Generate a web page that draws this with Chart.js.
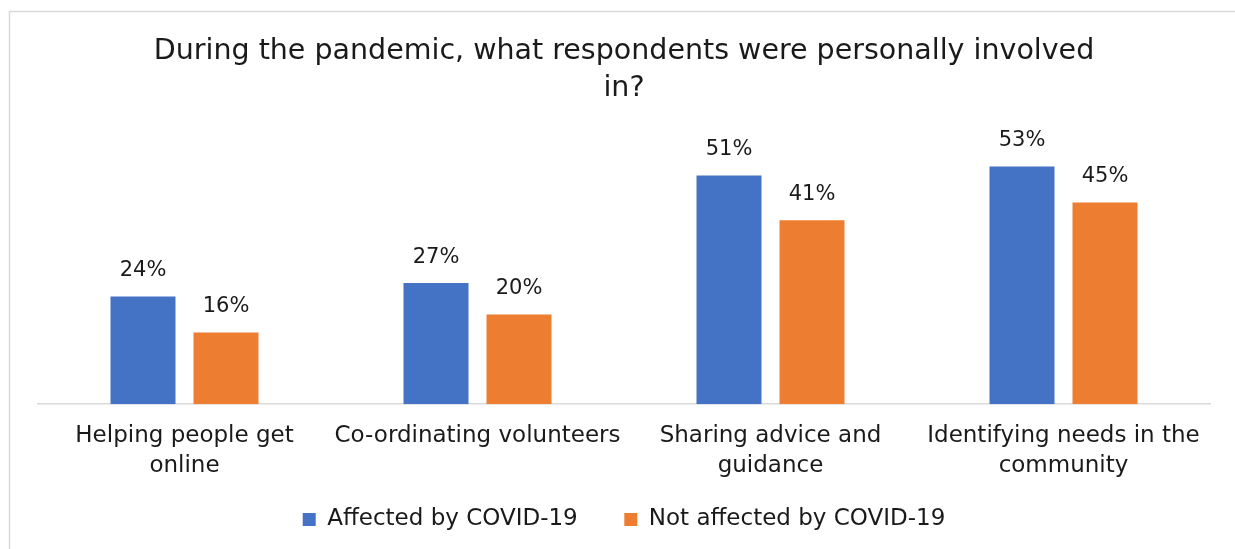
<!DOCTYPE html>
<html>
<head>
<meta charset="utf-8">
<script src="https://cdn.jsdelivr.net/npm/chart.js@4"></script>
<style>
  html, body { margin: 0; padding: 0; background: #fff; }
  #wrap { position: relative; width: 1235px; height: 549px; }
</style>
</head>
<body>
<div id="wrap"><canvas id="involvedChart"></canvas></div>
<script>
const categories = [
  ["Helping people get", "online"],
  "Co-ordinating volunteers",
  ["Sharing advice and", "guidance"],
  ["Identifying needs in the", "community"]
];
const affected = [24, 27, 51, 53];
const notAffected = [16, 20, 41, 45];
const seriesNames = ["Affected by COVID-19", "Not affected by COVID-19"];
const titleLines = ["During the pandemic, what respondents were personally involved", "in?"];

const FONT = "'DejaVu Sans', sans-serif";
const TEXT = "#1a1a1a";

// white page + light grey frame (top and left edges)
const frame = {
  id: "frame",
  beforeDraw(chart) {
    const c = chart.ctx;
    c.save();
    c.fillStyle = "#fff";
    c.fillRect(0, 0, chart.width, chart.height);
    c.strokeStyle = "#d9d9d9";
    c.lineWidth = 1.5;
    c.beginPath();
    c.moveTo(9.5, chart.height);
    c.lineTo(9.5, 11.5);
    c.lineTo(chart.width, 11.5);
    c.stroke();
    c.restore();
  }
};

// percentage labels above each bar
const valueLabels = {
  id: "valueLabels",
  afterDatasetsDraw(chart) {
    const c = chart.ctx;
    c.save();
    c.font = "21px " + FONT;
    c.fillStyle = TEXT;
    c.textAlign = "center";
    c.textBaseline = "middle";
    chart.data.datasets.forEach((ds, i) => {
      chart.getDatasetMeta(i).data.forEach((bar, j) => {
        c.fillText(ds.data[j] + "%", bar.x, bar.y - 26);
      });
    });
    c.restore();
  }
};

new Chart(document.getElementById("involvedChart"), {
  type: "bar",
  data: {
    labels: categories,
    datasets: [
      {
        label: seriesNames[0],
        data: affected,
        backgroundColor: "#4472C4",
        categoryPercentage: 0.5666,
        barPercentage: 0.783
      },
      {
        label: seriesNames[1],
        data: notAffected,
        backgroundColor: "#ED7D31",
        categoryPercentage: 0.5666,
        barPercentage: 0.783
      }
    ]
  },
  options: {
    responsive: true,
    maintainAspectRatio: false,
    animation: false,
    layout: { padding: { left: 38, right: 25, top: 33, bottom: 8 } },
    scales: {
      x: {
        grid: { display: false, drawTicks: false },
        border: { color: "#d9d9d9", width: 1.5 },
        ticks: {
          color: TEXT,
          font: { family: FONT, size: 23, lineHeight: 1.3 },
          padding: 17,
          maxRotation: 0
        }
      },
      y: {
        display: false,
        min: 0,
        max: 60
      }
    },
    plugins: {
      title: {
        display: true,
        text: titleLines,
        color: TEXT,
        font: { family: FONT, size: 28.5, weight: "normal", lineHeight: 1.3 },
        padding: { top: 0, bottom: 28 }
      },
      legend: {
        position: "bottom",
        labels: {
          color: TEXT,
          font: { family: FONT, size: 23 },
          boxWidth: 13,
          boxHeight: 13,
          padding: 10,
          // wider gap after the first entry without growing the legend's height
          generateLabels(chart) {
            const items = Chart.defaults.plugins.legend.labels.generateLabels(chart);
            items[0].text += "     ";
            return items;
          }
        }
      },
      tooltip: { enabled: false }
    }
  },
  plugins: [frame, valueLabels]
});
</script>
</body>
</html>
